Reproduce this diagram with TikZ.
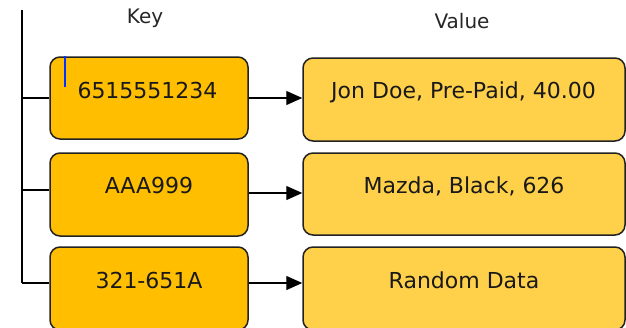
\documentclass[tikz,border=0pt]{standalone}
\usepackage{fontspec}
\setmainfont{DejaVu Sans}
\usetikzlibrary{arrows.meta}
\definecolor{keyfill}{HTML}{FFBF00}
\definecolor{valfill}{HTML}{FFD04A}
\definecolor{edge}{HTML}{222222}
\tikzset{
  keybox/.style={draw=edge, line width=1.5pt, fill=keyfill, rounded corners=10pt, inner sep=0pt},
  valbox/.style={draw=edge, line width=1.5pt, fill=valfill, rounded corners=10pt, inner sep=0pt},
  boxtext/.style={font=\fontsize{22}{26}\selectfont, text=black!90, inner sep=0pt},
  hdr/.style={font=\fontsize{20}{24}\selectfont, text=black!85, inner sep=0pt},
  conn/.style={draw=black, line width=1.3pt},
  arr/.style={conn, -{Triangle[length=16pt,width=14pt]}}
}
\begin{document}
\begin{tikzpicture}[x=1pt,y=-1pt]
\useasboundingbox (0,0) rectangle (626,327);
\clip (0,0) rectangle (626,327);
% header labels
\node[hdr] (keyhdr) at (145,18) {Key};
\node[hdr] (valhdr) at (462,21) {Value};
% key boxes
\node[keybox, minimum width=198pt, minimum height=82pt] (k1) at (149,98) {};
\node[keybox, minimum width=198pt, minimum height=83pt] (k2) at (149,194.5) {};
\node[keybox, minimum width=198pt, minimum height=83pt] (k3) at (149,288.5) {};
% value boxes
\node[valbox, minimum width=322pt, minimum height=83pt] (v1) at (464,99.5) {};
\node[valbox, minimum width=322pt, minimum height=82pt] (v2) at (464,194) {};
\node[valbox, minimum width=322pt, minimum height=83pt] (v3) at (464,288.5) {};
% texts
\node[boxtext] (tk1) at (147.5,90) {6515551234};
\node[boxtext] (tk2) at (149,185.5) {AAA999};
\node[boxtext] (tk3) at (149,280.5) {321-651A};
\node[boxtext] (tv1) at (463.5,92) {Jon Doe, Pre-Paid, 40.00};
\node[boxtext] (tv2) at (464,186.5) {Mazda, Black, 626};
\node[boxtext] (tv3) at (464,280.5) {Random Data};
% spine
\coordinate (top) at (22,10);
\coordinate (b1) at (22,98);
\coordinate (b2) at (22,190);
\coordinate (b3) at (22,283);
\draw[conn] (top) -- (b3);
\draw[conn] (b1) -- (b1 -| k1.west);
\draw[conn] (b2) -- (b2 -| k2.west);
\draw[conn] (b3) -- (b3 -| k3.west);
% arrows
\draw[arr] (k1.east |- 0,98) -- (v1.west |- 0,98);
\draw[arr] (k2.east |- 0,193) -- (v2.west |- 0,193);
\draw[arr] (k3.east |- 0,283) -- (v3.west |- 0,283);
% cursor mark
\coordinate (c1) at (65,56);
\coordinate (c2) at (65,87);
\draw[blue!80!cyan, line width=2.5pt] (c1) -- (c2);
\end{tikzpicture}
\end{document}
